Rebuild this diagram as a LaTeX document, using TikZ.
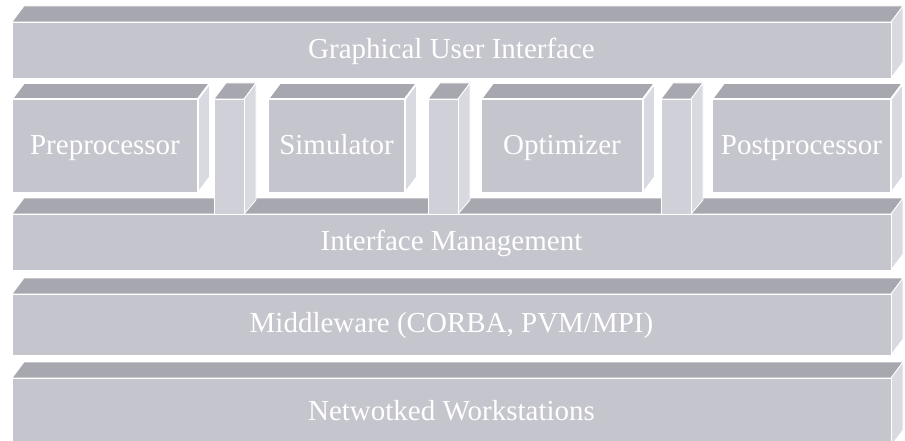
\documentclass[tikz,border=0pt]{standalone}
\usepackage{fontspec}
\setmainfont{Liberation Serif}

\definecolor{topgrey}{HTML}{A7A7B0}
\definecolor{frontgrey}{HTML}{C5C5CD}
\definecolor{sidegrey}{HTML}{D9D9E1}
\definecolor{pillargrey}{HTML}{D0D0D8}

% #1 name, #2 x0, #3 y0, #4 x1, #5 y1, #6 text (front face corners)
\newcommand{\slab}[7][]{%
  \filldraw[topface,#1] (#3,#4) -- (#3+12,#4-16) -- (#5+12,#4-16) -- (#5,#4) -- cycle;
  \filldraw[sideface,#1] (#5,#4) -- (#5+12,#4-16) -- (#5+12,#6-16) -- (#5,#6) -- cycle;
  \filldraw[frontface,#1] (#3,#4) rectangle (#5,#6);
  \node[txt] (#2) at ({(#3+#5)/2},{(#4+#6)/2}) {#7};}

% pillar between two modules: #1 x0, #2 x1
\newcommand{\pillar}[2]{%
  \filldraw[topface] (#1,99) -- (#1+12,83) -- (#2+12,83) -- (#2,99) -- cycle;
  \filldraw[sideface] (#2,99) -- (#2+12,83) -- (#2+12,200) -- (#2,214) -- cycle;
  \filldraw[frontface, fill=pillargrey] (#1,99) rectangle (#2,214);}

\begin{document}
\begin{tikzpicture}[
  x=1pt, y=-1pt,
  topface/.style={fill=topgrey, draw=white, line width=.8pt},
  sideface/.style={fill=sidegrey, draw=white, line width=.8pt},
  frontface/.style={fill=frontgrey, draw=white, line width=.8pt},
  module/.style={line width=1.8pt},
  txt/.style={text=white, font=\fontsize{29}{34}\selectfont, inner sep=0pt,
    text height=.68em, text depth=.2em, yshift=-6pt}
]
\useasboundingbox[fill=white] (0,0) rectangle (905,441);

% layers
\slab{nw}{12}{378}{891}{446}{Netwotked Workstations}
\slab{mw}{12}{294}{891}{355}{Middleware (CORBA, PVM/MPI)}
\slab{im}{12}{214}{891}{270}{Interface Management}

% connectors down into the interface layer
\pillar{214}{244}
\pillar{428}{458}
\pillar{661}{691}

% modules
\slab[module]{pre}{12}{99}{198}{193}{Preprocessor}
\slab[module]{sim}{268}{99}{405}{193}{Simulator}
\slab[module]{opt}{481}{99}{643}{193}{Optimizer}
\slab[module]{post}{712}{99}{891}{193}{Postprocessor}

\slab{gui}{12}{22}{891}{78}{Graphical User Interface}
\end{tikzpicture}
\end{document}
